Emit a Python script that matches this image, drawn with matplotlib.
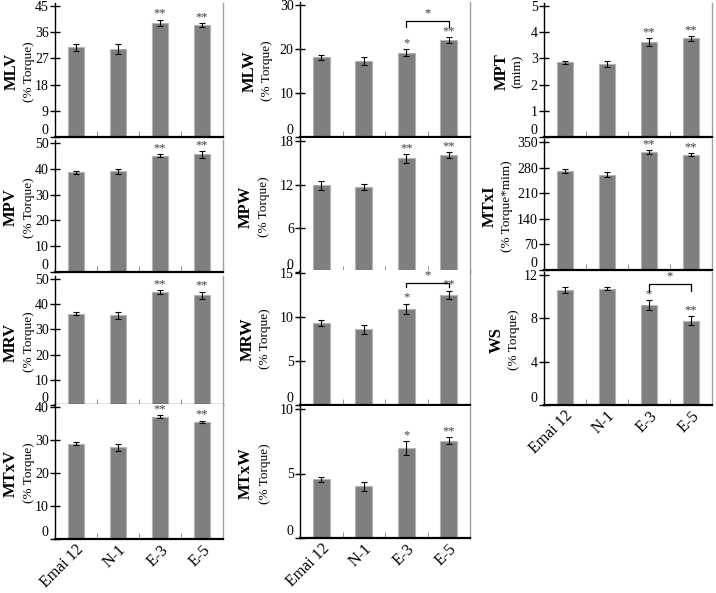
import matplotlib
matplotlib.use("Agg")
import matplotlib.pyplot as plt
import numpy as np

plt.rcParams['font.family'] = ['Liberation Serif', 'DejaVu Serif']

categories = ['Emai 12', 'N-1', 'E-3', 'E-5']

mlv = [30.8, 30.2, 39.2, 38.5]
mlv_err = [1.3, 1.8, 1.1, 0.7]
mlw = [18.1, 17.2, 19.2, 22.0]
mlw_err = [0.6, 0.9, 0.7, 0.7]
mpt = [2.85, 2.79, 3.62, 3.76]
mpt_err = [0.05, 0.12, 0.15, 0.08]
mpv = [38.7, 39.1, 45.1, 45.6]
mpv_err = [0.6, 1.0, 0.7, 1.3]
mpw = [11.9, 11.7, 15.6, 16.1]
mpw_err = [0.6, 0.4, 0.6, 0.4]
mtxi = [271, 261, 323, 315]
mtxi_err = [5, 6, 5, 4]
mrv = [36.2, 35.6, 44.9, 43.5]
mrv_err = [0.6, 1.5, 0.8, 1.5]
mrw = [9.3, 8.6, 10.9, 12.5]
mrw_err = [0.35, 0.5, 0.6, 0.5]
ws = [10.6, 10.75, 9.25, 7.8]
ws_err = [0.25, 0.12, 0.45, 0.4]
mtxv = [28.9, 27.8, 37.1, 35.5]
mtxv_err = [0.4, 1.0, 0.5, 0.4]
mtxw = [4.56, 4.0, 6.95, 7.55]
mtxw_err = [0.2, 0.35, 0.55, 0.25]

stars_2 = ['', '', '**', '**']
stars_12 = ['', '', '*', '**']

# bracket: (left category, right category, line y, leg bottom y, label)
mlw_bracket = (2, 3, 26.4, 24.9, '*')
mrw_bracket = (2, 3, 13.9, 13.4, '*')
ws_bracket = (2, 3, 11.17, 10.55, '*')

W, H = 716, 593
fig = plt.figure(figsize=(W / 100, H / 100), dpi=100)

# name, unit, values, errs, stars, bracket, ticks, (x0,x1,ytop,ybot), label x (bold, unit), xlabels
panels = [
    ('MLV', '(% Torque)', mlv, mlv_err, stars_2, None, [0, 9, 18, 27, 36, 45], (55, 223, 6, 137), (12, 29), False),
    ('MPV', '(% Torque)', mpv, mpv_err, stars_2, None, [0, 10, 20, 30, 40, 50], (55, 223, 143, 272), (11, 29), False),
    ('MRV', '(% Torque)', mrv, mrv_err, stars_2, None, [0, 10, 20, 30, 40, 50], (55, 223, 279, 405), (11, 29), False),
    ('MTxV', '(% Torque)', mtxv, mtxv_err, stars_2, None, [0, 10, 20, 30, 40], (55, 223, 407, 539), (11, 29), True),
    ('MLW', '(% Torque)', mlw, mlw_err, stars_12, mlw_bracket, [0, 10, 20, 30], (300, 470, 5, 137), (250, 267), False),
    ('MPW', '(% Torque)', mpw, mpw_err, stars_2, None, [0, 6, 12, 18], (300, 470, 141, 272), (246, 264), False),
    ('MRW', '(% Torque)', mrw, mrw_err, stars_12, mrw_bracket, [0, 5, 10, 15], (300, 470, 273, 405), (248, 265), False),
    ('MTxW', '(% Torque)', mtxw, mtxw_err, stars_12, None, [0, 5, 10], (300, 470, 409, 538), (246, 265), True),
    ('MPT', '(mim)', mpt, mpt_err, stars_2, None, [0, 1, 2, 3, 4, 5], (544, 712, 6, 137), (502, 518), False),
    ('MTxI', '(% Torque*mim)', mtxi, mtxi_err, stars_2, None, [0, 70, 140, 210, 280, 350], (544, 712, 142, 270), (490, 507), False),
    ('WS', '(% Torque)', ws, ws_err, stars_12, ws_bracket, [0, 4, 8, 12], (544, 712, 275, 405), (497, 514), True),
]

x = np.arange(len(categories))
for name, unit, vals, errs, stars, bracket, ticks, box, labx, show_x in panels:
    x0, x1, ytop, ybot = box
    pad = 3
    ax = fig.add_axes([x0 / W, 1 - ybot / H, (x1 - x0) / W, (ybot - ytop + pad) / H])
    ymax = ticks[-1]
    ax.set_ylim(0, ymax * (ybot - ytop + pad) / (ybot - ytop))
    ax.set_xlim(-0.5, 3.5)
    ax.bar(x, vals, width=0.4, color='#7f7f7f', edgecolor='#b5b5b5', linewidth=0.8, zorder=2)
    ax.errorbar(x, vals, yerr=errs, fmt='none', ecolor='black', elinewidth=0.8,
                capsize=2, capthick=0.8, zorder=3)
    for i, s in enumerate(stars):
        if s:
            ax.annotate(s, (x[i], vals[i] + errs[i]), xytext=(0, 0), textcoords='offset points',
                        ha='center', va='bottom', fontsize=9, color='#404040')
    if bracket:
        a, b, yl, yb, lab = bracket
        ax.plot([a, a, b, b], [yb, yl, yl, yb], color='black', lw=0.9, zorder=4)
        ax.annotate(lab, ((a + b) / 2, yl), xytext=(0, 1), textcoords='offset points',
                    ha='center', va='bottom', fontsize=9, color='#303030')
    ax.set_yticks(ticks)
    ax.tick_params(axis='y', direction='inout', length=7, width=1, labelsize=10, pad=1)
    ax.yaxis.get_major_ticks()[0].label1.set_verticalalignment('bottom')
    ax.set_xticks(x)
    ax.set_xticks([0.5, 1.5, 2.5], minor=True)
    ax.tick_params(axis='x', which='major', length=0, labelsize=11.5, pad=2)
    ax.tick_params(axis='x', which='minor', direction='in', length=4, color='#808080')
    if show_x:
        ax.set_xticklabels(categories, rotation=45, ha='right', rotation_mode='anchor')
    else:
        ax.set_xticklabels([])
    ax.spines['top'].set_visible(False)
    ax.spines['right'].set_color('#a0a0a0')
    ax.spines['right'].set_linewidth(1)
    ax.spines['left'].set_linewidth(1)
    ax.spines['bottom'].set_linewidth(1.6)
    yc = 1 - (ytop + ybot) / 2 / H
    fig.text(labx[0] / W, yc, name, rotation=90, ha='center', va='center',
             fontsize=12, fontweight='bold')
    fig.text(labx[1] / W, yc, unit, rotation=90, ha='center', va='center', fontsize=9.5)

fig.savefig('out.png', dpi=100)
